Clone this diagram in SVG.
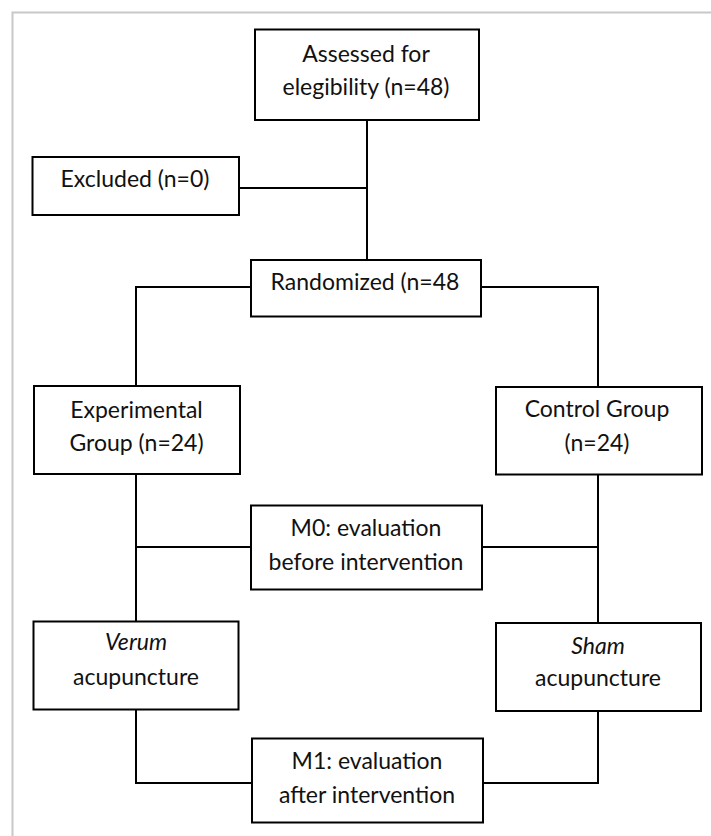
<svg xmlns="http://www.w3.org/2000/svg" width="711" height="836" viewBox="0 0 711 836">
<style>
.box{fill:#fff;stroke:#000;stroke-width:2}
.t{font-family:Lato,"Liberation Sans",sans-serif;font-size:23px;fill:#111;text-anchor:middle}
.i{font-style:italic}
.c{fill:none;stroke:#000;stroke-width:2}
</style>
<rect x="0" y="0" width="711" height="836" fill="#fff"/>
<path d="M12.5,836 V12.5 H711" fill="none" stroke="#c8c8c8" stroke-width="2"/>
<g id="connectors">
<path class="c" d="M367,120 V260"/>
<path class="c" d="M239,188 H367"/>
<path class="c" d="M251,287 H136 V386"/>
<path class="c" d="M481,287 H598 V387"/>
<path class="c" d="M136,474 V621"/>
<path class="c" d="M136,547 H251"/>
<path class="c" d="M598,474 V623"/>
<path class="c" d="M482,547 H598"/>
<path class="c" d="M136,710 V783 H252"/>
<path class="c" d="M598,711 V783 H483"/>
</g>
<g id="assessed">
<rect class="box" x="255" y="29.5" width="224" height="90.5"/>
<text class="t" x="366" y="61.5">Assessed for</text>
<text class="t" x="366" y="94.5">elegibility (n=48)</text>
</g>
<g id="excluded">
<rect class="box" x="32.5" y="157" width="206.5" height="58"/>
<text class="t" x="135" y="187">Excluded (n=0)</text>
</g>
<g id="randomized">
<rect class="box" x="251" y="260" width="230" height="56.5"/>
<text class="t" x="365" y="290">Randomized (n=48</text>
</g>
<g id="experimental">
<rect class="box" x="34" y="386" width="206" height="88"/>
<text class="t" x="136.5" y="417.5">Experimental</text>
<text class="t" x="136.5" y="451">Group (n=24)</text>
</g>
<g id="control">
<rect class="box" x="496" y="387" width="206" height="87.5"/>
<text class="t" x="597" y="417">Control Group</text>
<text class="t" x="597" y="450.5">(n=24)</text>
</g>
<g id="m0">
<rect class="box" x="251" y="505.5" width="231" height="84"/>
<text class="t" x="366" y="535.5">M0: evaluation</text>
<text class="t" x="366" y="569.5">before intervention</text>
</g>
<g id="verum">
<rect class="box" x="33.5" y="621.5" width="205" height="88"/>
<text class="t i" x="136" y="650">Verum</text>
<text class="t" x="136" y="684.5">acupuncture</text>
</g>
<g id="sham">
<rect class="box" x="496" y="623" width="205" height="88"/>
<text class="t i" x="598" y="653.5">Sham</text>
<text class="t" x="598" y="686">acupuncture</text>
</g>
<g id="m1">
<rect class="box" x="252" y="738.5" width="231" height="84"/>
<text class="t" x="367" y="769">M1: evaluation</text>
<text class="t" x="367" y="802.5">after intervention</text>
</g>
</svg>
